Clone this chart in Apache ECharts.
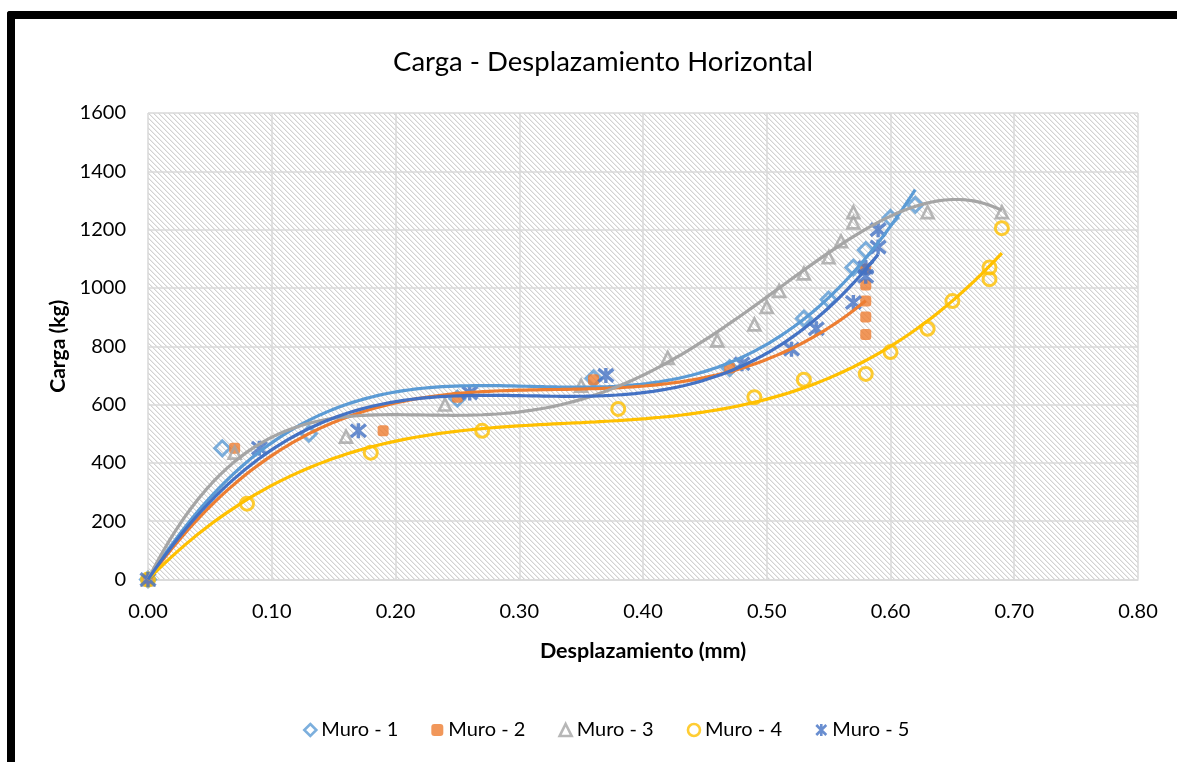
<!DOCTYPE html>
<html>
<head>
<meta charset="utf-8">
<script src="https://cdn.jsdelivr.net/npm/echarts@6/dist/echarts.min.js"></script>
<style>
html,body{margin:0;padding:0;background:#fff;}
#chart{width:1177px;height:762px;}
</style>
</head>
<body>
<div id="chart"></div>
<script>
// ---- Data ----
const seriesNames = ['Muro - 1', 'Muro - 2', 'Muro - 3', 'Muro - 4', 'Muro - 5'];

const muro1X = [0, 0.06, 0.13, 0.25, 0.36, 0.47, 0.53, 0.55, 0.57, 0.58, 0.60, 0.62];
const muro1Y = [0, 450, 500, 620, 690, 725, 895, 960, 1070, 1130, 1240, 1285];

const muro2X = [0, 0.07, 0.19, 0.25, 0.36, 0.47, 0.58, 0.58, 0.58, 0.58, 0.58];
const muro2Y = [0, 450, 510, 625, 685, 725, 840, 900, 955, 1010, 1065];

const muro3X = [0, 0.07, 0.16, 0.24, 0.35, 0.42, 0.46, 0.49, 0.50, 0.51, 0.53, 0.55, 0.56, 0.57, 0.57, 0.63, 0.69];
const muro3Y = [0, 435, 490, 600, 665, 760, 820, 875, 935, 990, 1050, 1105, 1160, 1225, 1260, 1260, 1260];

const muro4X = [0, 0.08, 0.18, 0.27, 0.38, 0.49, 0.53, 0.58, 0.60, 0.63, 0.65, 0.68, 0.68, 0.69];
const muro4Y = [0, 260, 435, 510, 585, 625, 685, 705, 780, 860, 955, 1030, 1070, 1205];

const muro5X = [0, 0.09, 0.17, 0.26, 0.37, 0.48, 0.52, 0.54, 0.57, 0.58, 0.58, 0.59, 0.59];
const muro5Y = [0, 450, 510, 640, 700, 740, 790, 860, 950, 1040, 1070, 1140, 1200];

const xTicks = [0, 0.1, 0.2, 0.3, 0.4, 0.5, 0.6, 0.7, 0.8];
const yTicks = [0, 200, 400, 600, 800, 1000, 1200, 1400, 1600];

// ---- Styling ----
const colors = ['#5B9BD5', '#ED7D31', '#A5A5A5', '#FFC000', '#4472C4'];
const trendOrder = [3, 3, 4, 3, 3];
const starPath = 'path://M0,0L10,10M10,0L0,10M5,-1L5,11';

const allX = [muro1X, muro2X, muro3X, muro4X, muro5X];
const allY = [muro1Y, muro2Y, muro3Y, muro4Y, muro5Y];

// Polynomial least-squares trendline (intercept fixed at 0)
function polyFit(xs, ys, deg) {
  const A = [], b = [];
  for (let i = 0; i < deg; i++) { A.push(new Array(deg).fill(0)); b.push(0); }
  for (let k = 0; k < xs.length; k++) {
    const phi = [];
    for (let i = 0; i < deg; i++) phi.push(Math.pow(xs[k], i + 1));
    for (let i = 0; i < deg; i++) {
      b[i] += phi[i] * ys[k];
      for (let j = 0; j < deg; j++) A[i][j] += phi[i] * phi[j];
    }
  }
  for (let c = 0; c < deg; c++) {
    let p = c;
    for (let r = c + 1; r < deg; r++) if (Math.abs(A[r][c]) > Math.abs(A[p][c])) p = r;
    [A[c], A[p]] = [A[p], A[c]]; [b[c], b[p]] = [b[p], b[c]];
    for (let r = c + 1; r < deg; r++) {
      const f = A[r][c] / A[c][c];
      for (let j = c; j < deg; j++) A[r][j] -= f * A[c][j];
      b[r] -= f * b[c];
    }
  }
  const coef = new Array(deg).fill(0);
  for (let i = deg - 1; i >= 0; i--) {
    let s = b[i];
    for (let j = i + 1; j < deg; j++) s -= A[i][j] * coef[j];
    coef[i] = s / A[i][i];
  }
  return coef;
}
function trendData(xs, ys, deg) {
  const coef = polyFit(xs, ys, deg);
  const xmax = Math.max.apply(null, xs);
  const out = [];
  const N = 120;
  for (let i = 0; i <= N; i++) {
    const x = xmax * i / N;
    let y = 0;
    for (let d = 0; d < deg; d++) y += coef[d] * Math.pow(x, d + 1);
    out.push([x, y]);
  }
  return out;
}

// hatched plot background (downward diagonal)
function hatch() {
  const P = 5;
  const c = document.createElement('canvas');
  c.width = P; c.height = P;
  const ctx = c.getContext('2d');
  ctx.fillStyle = '#ffffff'; ctx.fillRect(0, 0, P, P);
  for (let x = 0; x < P; x++) for (let y = 0; y < P; y++) {
    const m = ((x - y) % P + P) % P;
    if (m === 0) { ctx.fillStyle = '#d2d2d2'; ctx.fillRect(x, y, 1, 1); }
    else if (m === 1) { ctx.fillStyle = '#ececec'; ctx.fillRect(x, y, 1, 1); }
  }
  return c;
}

const symbols = ['diamond', 'roundRect', 'triangle', 'circle', starPath];
const symSizes = [15, 11, 12, 13, 15];
function markerStyle(i) {
  if (i === 1) return { color: colors[i], borderWidth: 0 };
  return { color: 'rgba(0,0,0,0)', borderColor: colors[i], borderWidth: i === 2 ? 2.6 : (i === 4 ? 3.4 : 3) };
}

const series = [];
for (let i = 0; i < 5; i++) {
  series.push({
    name: seriesNames[i],
    type: 'scatter',
    data: allX[i].map((x, k) => [x, allY[i][k]]),
    symbol: symbols[i],
    symbolSize: symSizes[i],
    itemStyle: markerStyle(i),
    z: 2 + i,
    silent: true
  });
}
for (let i = 0; i < 5; i++) {
  series.push({
    name: seriesNames[i] + ' trend',
    type: 'line',
    data: trendData(allX[i], allY[i], trendOrder[i]),
    showSymbol: false,
    symbol: 'none',
    lineStyle: { color: colors[i], width: 3.2 },
    z: 10 + i,
    silent: true
  });
}

const chart = echarts.init(document.getElementById('chart'), null, { renderer: 'canvas' });
chart.setOption({
  animation: false,
  backgroundColor: '#ffffff',
  title: {
    text: 'Carga - Desplazamiento Horizontal',
    left: 598, top: 43, textAlign: 'center',
    textStyle: { fontFamily: 'Lato', fontSize: 27.5, fontWeight: 'normal', color: '#000' }
  },
  graphic: [
    { type: 'rect', shape: { x: 7, y: 11, width: 1170, height: 8, r: [3, 0, 0, 0] }, style: { fill: '#000' }, z: 100 },
    { type: 'rect', shape: { x: 7, y: 11, width: 8, height: 751, r: [3, 0, 0, 0] }, style: { fill: '#000' }, z: 100 }
  ],
  grid: {
    left: 148, top: 113, right: 39, bottom: 182.5,
    show: true,
    backgroundColor: { image: hatch(), repeat: 'repeat' },
    borderWidth: 0
  },
  legend: {
    left: 298, top: 715,
    itemWidth: 12, itemHeight: 12, itemGap: 33,
    textStyle: { fontFamily: 'Lato', fontSize: 20, color: '#000' },
    data: seriesNames.map((n, i) => ({
      name: n, icon: symbols[i],
      itemStyle: i === 1 ? markerStyle(i) : Object.assign({}, markerStyle(i), { borderWidth: 2.6 })
    }))
  },
  xAxis: {
    type: 'value', min: 0, max: 0.8, interval: 0.1,
    name: 'Desplazamiento (mm)', nameLocation: 'middle', nameGap: 61,
    nameTextStyle: { fontFamily: 'Lato', fontSize: 21.5, fontWeight: 'bold', color: '#000' },
    axisLine: { show: true, lineStyle: { color: '#d9d9d9', width: 1.5 } },
    axisTick: { show: false },
    axisLabel: { margin: 22, fontFamily: 'Lato', fontSize: 20, color: '#000',
      formatter: v => (Math.round(v * 100) / 100).toFixed(2) },
    splitLine: { show: true, lineStyle: { color: '#d9d9d9', width: 1.5 } }
  },
  yAxis: {
    type: 'value', min: 0, max: 1600, interval: 200,
    name: 'Carga (kg)', nameLocation: 'middle', nameGap: 74, nameRotate: 90,
    nameTextStyle: { fontFamily: 'Lato', fontSize: 21, fontWeight: 'bold', color: '#000' },
    axisLine: { show: false },
    axisTick: { show: false },
    axisLabel: { margin: 22, fontFamily: 'Lato', fontSize: 20, color: '#000',
      formatter: v => String(Math.round(v)) },
    splitLine: { show: true, lineStyle: { color: '#d9d9d9', width: 1.5 } }
  },
  series: series
});
</script>
</body>
</html>
